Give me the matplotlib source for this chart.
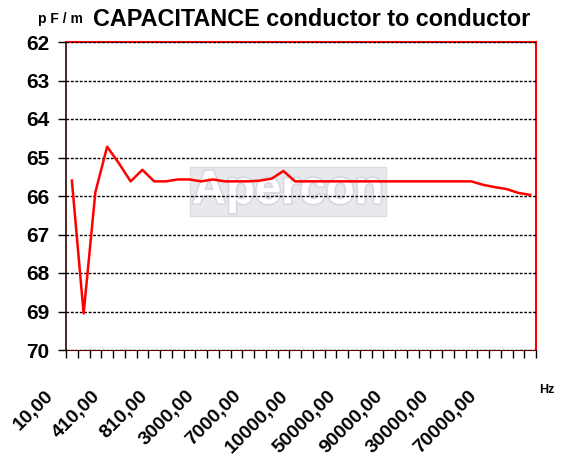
import numpy as np
import matplotlib
matplotlib.use("Agg")
import matplotlib.pyplot as plt
import matplotlib.transforms as mtransforms
import matplotlib.patheffects as pe

plt.rcParams['font.family'] = ['Liberation Sans', 'DejaVu Sans']

# -------------------------------
#   ДАННЫЕ
# -------------------------------
freq_labels = [
    "10,00", "110,00", "210,00", "310,00", "410,00", "510,00", "610,00", "710,00",
    "810,00", "910,00", "1000,00", "2000,00", "3000,00", "4000,00", "5000,00", "6000,00",
    "7000,00", "8000,00", "9000,00", "9500,00", "10000,00", "20000,00", "30000,00", "40000,00",
    "50000,00", "60000,00", "70000,00", "80000,00", "90000,00", "100000,00", "10000,00", "20000,00",
    "30000,00", "40000,00", "50000,00", "60000,00", "70000,00", "80000,00", "90000,00", "100000,00",
]
capacitance = [
    65.60, 69.05, 65.90, 64.72, 65.15, 65.62, 65.32, 65.62, 65.62, 65.57,
    65.57, 65.62, 65.57, 65.62, 65.62, 65.62, 65.60, 65.55, 65.35, 65.62,
    65.62, 65.62, 65.62, 65.62, 65.62, 65.62, 65.62, 65.62, 65.62, 65.62,
    65.62, 65.62, 65.62, 65.62, 65.62, 65.71, 65.77, 65.82, 65.92, 65.97,
]
y_ticks = [62, 63, 64, 65, 66, 67, 68, 69, 70]
label_step = 4

# -------------------------------
#   ГРАФИК
# -------------------------------
fig = plt.figure(figsize=(5.62, 4.63), dpi=100)
ax = fig.add_axes([66 / 562, 1 - 350 / 463, 470 / 562, 308 / 463])

n = len(capacitance)
x = np.arange(n) + 0.5

# водяной знак
ax.text(0.472, 0.515, "Apercon", transform=ax.transAxes,
        ha="center", va="center", fontsize=34, fontweight="bold", color="white",
        path_effects=[pe.withStroke(linewidth=2.5, foreground="#d6d9df")],
        bbox=dict(boxstyle="square,pad=0.05", facecolor="#e7e9ed", edgecolor="#d9dce1"),
        zorder=0)

ax.plot(x, capacitance, color="red", lw=1.8, zorder=3)

ax.set_xlim(0, n)
ax.set_ylim(70, 62)
ax.set_yticks(y_ticks)
ax.set_yticklabels([str(v) for v in y_ticks], fontsize=15, fontweight="bold")
ax.yaxis.grid(True, color="black", linestyle=(0, (2, 1.2)), lw=1)
ax.set_axisbelow(False)

ax.set_xticks(np.arange(n + 1))
ax.set_xticklabels([])
ax.set_xticks(x[::label_step], minor=True)
ax.set_xticklabels(freq_labels[::label_step], minor=True, rotation=45,
                   ha="right", va="top", fontsize=14, fontweight="bold")
ax.tick_params(axis="x", which="major", length=6, width=1, direction="out")
ax.tick_params(axis="x", which="minor", length=0, pad=27)
ax.tick_params(axis="y", length=6, width=1, pad=6)

shift = mtransforms.ScaledTranslation(-0.15, 0, fig.dpi_scale_trans)
for lab in ax.get_xticklabels(minor=True):
    lab.set_transform(lab.get_transform() + shift)

for side in ["top", "right"]:
    ax.spines[side].set_color("red")
    ax.spines[side].set_linewidth(1.5)
ax.spines["left"].set_color("#300000")
ax.spines["bottom"].set_color("#600000")
ax.spines["left"].set_linewidth(1.2)

fig.text(93 / 562, 1 - 26 / 463, "CAPACITANCE conductor to conductor",
         fontsize=16.8, fontweight="bold", va="baseline", ha="left")
fig.text(38 / 562, 1 - 23 / 463, "p F / m", fontsize=10, fontweight="bold",
         va="baseline", ha="left")
fig.text(547 / 562, 1 - 390 / 463, "Hz", fontsize=9, fontweight="bold",
         va="center", ha="center")

fig.savefig("out.png", dpi=100)
